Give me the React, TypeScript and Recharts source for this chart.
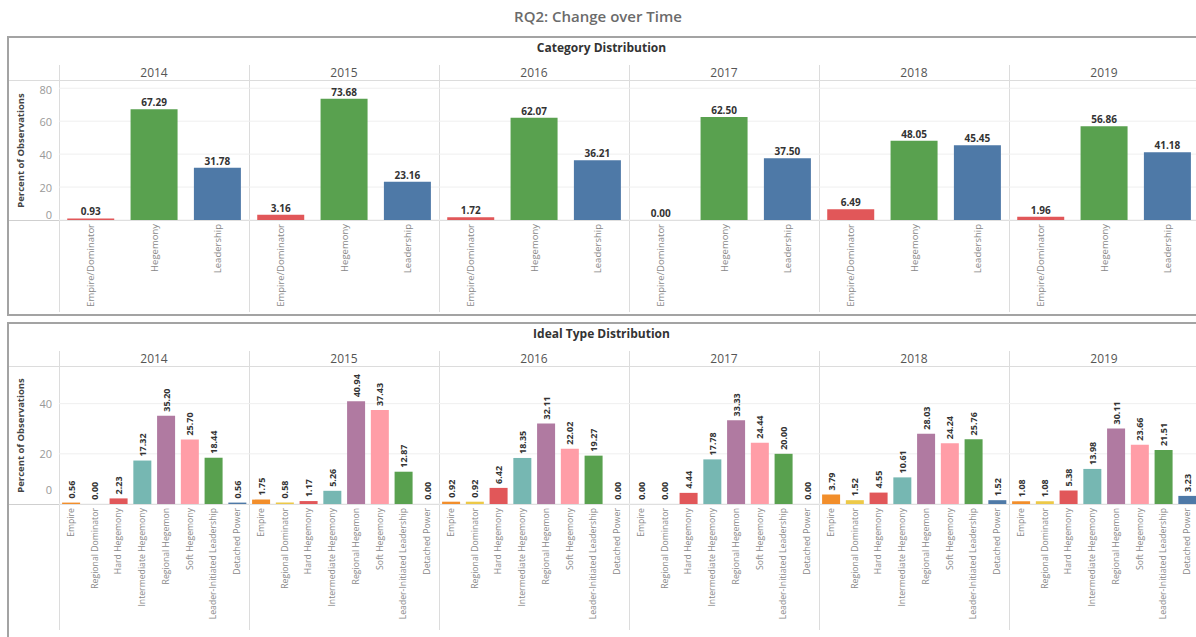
import React from 'react';
import { Bar, BarChart, CartesianGrid, Cell, LabelList, XAxis, YAxis } from 'recharts';

const years = ['2014', '2015', '2016', '2017', '2018', '2019'];

// Category Distribution (percent of observations)
const categoryNames = ['Empire/Dominator', 'Hegemony', 'Leadership'];
const category2014 = [0.93, 67.29, 31.78];
const category2015 = [3.16, 73.68, 23.16];
const category2016 = [1.72, 62.07, 36.21];
const category2017 = [0.0, 62.5, 37.5];
const category2018 = [6.49, 48.05, 45.45];
const category2019 = [1.96, 56.86, 41.18];
const categoryColors = ['#E15759', '#59A14F', '#4E79A7'];
const categoryTicks = [0, 20, 40, 60, 80];

// Ideal Type Distribution (percent of observations)
const idealNames = [
  'Empire',
  'Regional Dominator',
  'Hard Hegemony',
  'Intermediate Hegemony',
  'Regional Hegemon',
  'Soft Hegemony',
  'Leader-Initiated Leadership',
  'Detached Power',
];
const ideal2014 = [0.56, 0.0, 2.23, 17.32, 35.2, 25.7, 18.44, 0.56];
const ideal2015 = [1.75, 0.58, 1.17, 5.26, 40.94, 37.43, 12.87, 0.0];
const ideal2016 = [0.92, 0.92, 6.42, 18.35, 32.11, 22.02, 19.27, 0.0];
const ideal2017 = [0.0, 0.0, 4.44, 17.78, 33.33, 24.44, 20.0, 0.0];
const ideal2018 = [3.79, 1.52, 4.55, 10.61, 28.03, 24.24, 25.76, 1.52];
const ideal2019 = [1.08, 1.08, 5.38, 13.98, 30.11, 23.66, 21.51, 3.23];
const idealColors = ['#F28E2B', '#EDC948', '#E15759', '#76B7B2', '#B07AA1', '#FF9DA7', '#59A14F', '#4E79A7'];
const idealTicks = [0, 20, 40];

const categoryByYear = [category2014, category2015, category2016, category2017, category2018, category2019];
const idealByYear = [ideal2014, ideal2015, ideal2016, ideal2017, ideal2018, ideal2019];

const FONT = '"Open Sans", "Noto Sans", sans-serif';
const COL_X = 59;
const COL_W = 190;
const AXIS_W = 52;

type PanelProps = {
  top: number;
  height: number;
  title: string;
  names: string[];
  valuesByYear: number[][];
  colors: string[];
  domain: [number, number];
  ticks: number[];
  chartH: number;
  xAxisH: number;
  labelSize: number;
  rotatedValues: boolean;
  zeroShift: number;
};

function makeXTick(fontSize: number) {
  return function XTick(props: any) {
    const { x, y, payload } = props;
    return (
      <text
        x={x}
        y={y}
        transform={`rotate(-90 ${x} ${y})`}
        textAnchor="end"
        dominantBaseline="central"
        fill="#888"
        fontSize={fontSize}
        fontFamily={FONT}
      >
        {payload.value}
      </text>
    );
  };
}

function makeYTick(zeroShift: number) {
  return function YTick(props: any) {
    const { x, y, payload } = props;
    const dy = payload.value === 0 ? zeroShift : 0;
    return (
      <text x={x} y={y + dy} textAnchor="end" dominantBaseline="central" fill="#999" fontSize={11} fontFamily={FONT}>
        {payload.value}
      </text>
    );
  };
}

function flatValue(props: any) {
  const { x, y, width, value } = props;
  return (
    <text
      x={x + width / 2}
      y={y - 7}
      textAnchor="middle"
      dominantBaseline="central"
      fill="#333"
      fontSize={10}
      fontWeight="bold"
      fontFamily={FONT}
    >
      {Number(value).toFixed(2)}
    </text>
  );
}

function rotatedValue(props: any) {
  const { x, y, width, value } = props;
  const cx = x + width / 2;
  const cy = y - 4;
  return (
    <text
      x={cx}
      y={cy}
      transform={`rotate(-90 ${cx} ${cy})`}
      textAnchor="start"
      dominantBaseline="central"
      fill="#333"
      fontSize={9}
      fontWeight="bold"
      fontFamily={FONT}
    >
      {Number(value).toFixed(2)}
    </text>
  );
}

// keep zero bars as (near) invisible rects so their labels still show
const zeroBarSize = (value: any) => (Number(value) === 0 ? 0.2 : 0);

function Panel(p: PanelProps) {
  const XTick = makeXTick(p.labelSize);
  const YTick = makeYTick(p.zeroShift);
  const headerLine = p.top + 44;
  const baseline = headerLine + (p.chartH - p.xAxisH);
  return (
    <>
      <div
        style={{
          position: 'absolute',
          left: 7,
          top: p.top,
          width: 1200,
          height: p.height,
          border: '2px solid #a3a3a3',
          boxSizing: 'border-box',
        }}
      />
      <div
        style={{
          position: 'absolute',
          left: 7,
          width: 1189,
          top: p.top + 3,
          textAlign: 'center',
          fontSize: 12,
          fontWeight: 'bold',
          color: '#333',
          fontFamily: FONT,
        }}
      >
        {p.title}
      </div>
      {/* header line under the year labels */}
      <div style={{ position: 'absolute', left: 9, width: 1190, top: headerLine, height: 1, background: '#dcdcdc' }} />
      {/* zero line */}
      <div style={{ position: 'absolute', left: 9, width: 1190, top: baseline, height: 1, background: '#cfcfcf' }} />
      <div
        style={{
          position: 'absolute',
          left: 14,
          top: headerLine + (baseline - headerLine) / 2 - 6,
          width: 12,
          height: 12,
          display: 'flex',
          alignItems: 'center',
          justifyContent: 'center',
        }}
      >
        <div
          style={{
            transform: 'rotate(-90deg)',
            whiteSpace: 'nowrap',
            fontSize: 9.5,
            fontWeight: 'bold',
            color: '#444',
            fontFamily: FONT,
          }}
        >
          Percent of Observations
        </div>
      </div>
      {years.map((year, i) => {
        const data = p.names.map((name, j) => ({ name, value: p.valuesByYear[i][j] }));
        const first = i === 0;
        const left = COL_X + i * COL_W;
        return (
          <React.Fragment key={year}>
            <div
              style={{
                position: 'absolute',
                left,
                top: p.top + 29,
                width: 1,
                height: p.chartH + 15,
                background: '#dcdcdc',
              }}
            />
            <div
              style={{
                position: 'absolute',
                left,
                width: COL_W,
                top: p.top + 29,
                textAlign: 'center',
                fontSize: 12,
                color: '#555',
                fontFamily: FONT,
                lineHeight: '16px',
              }}
            >
              {year}
            </div>
            <div style={{ position: 'absolute', left: first ? left - AXIS_W : left, top: headerLine }}>
              <BarChart
                width={first ? COL_W + AXIS_W : COL_W}
                height={p.chartH}
                data={data}
                margin={{ top: 0, right: 0, left: 0, bottom: 0 }}
                barCategoryGap="13%"
              >
                <CartesianGrid vertical={false} stroke="#efefef" horizontalValues={p.ticks} />
                <XAxis
                  dataKey="name"
                  interval={0}
                  height={p.xAxisH}
                  axisLine={false}
                  tickLine={false}
                  tickSize={0}
                  tickMargin={4}
                  tick={<XTick />}
                />
                <YAxis
                  hide={!first}
                  width={first ? AXIS_W : 0}
                  domain={p.domain}
                  ticks={p.ticks}
                  allowDataOverflow
                  axisLine={false}
                  tickLine={false}
                  tickSize={0}
                  tickMargin={7}
                  tick={<YTick />}
                />
                <Bar dataKey="value" isAnimationActive={false} minPointSize={zeroBarSize}>
                  {data.map((d, j) => (
                    <Cell key={d.name} fill={d.value === 0 ? 'transparent' : p.colors[j]} />
                  ))}
                  <LabelList dataKey="value" content={p.rotatedValues ? rotatedValue : flatValue} />
                </Bar>
              </BarChart>
            </div>
          </React.Fragment>
        );
      })}
    </>
  );
}

export default function App() {
  return (
    <div
      style={{
        position: 'absolute',
        left: 0,
        top: 0,
        width: 1196,
        height: 637,
        overflow: 'hidden',
        background: '#fff',
        fontFamily: FONT,
      }}
    >
      <div
        style={{
          position: 'absolute',
          left: 0,
          width: 1196,
          top: 6,
          textAlign: 'center',
          fontSize: 15,
          fontWeight: 600,
          color: '#6b6b6b',
          fontFamily: FONT,
        }}
      >
        RQ2: Change over Time
      </div>
      <Panel
        top={36}
        height={280}
        title="Category Distribution"
        names={categoryNames}
        valuesByYear={categoryByYear}
        colors={categoryColors}
        domain={[0, 85]}
        ticks={categoryTicks}
        chartH={232}
        xAxisH={92}
        labelSize={9.5}
        rotatedValues={false}
        zeroShift={-6}
      />
      <Panel
        top={322}
        height={330}
        title="Ideal Type Distribution"
        names={idealNames}
        valuesByYear={idealByYear}
        colors={idealColors}
        domain={[0, 55]}
        ticks={idealTicks}
        chartH={264}
        xAxisH={126}
        labelSize={8.7}
        rotatedValues={true}
        zeroShift={-15}
      />
    </div>
  );
}
